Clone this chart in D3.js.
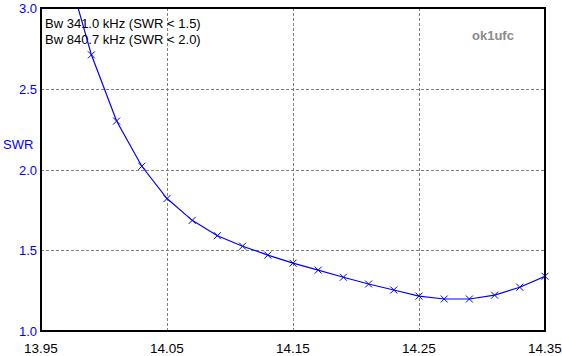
<!DOCTYPE html>
<html>
<head>
<meta charset="utf-8">
<script src="https://cdn.jsdelivr.net/npm/d3@7"></script>
<style>
  html, body { margin: 0; padding: 0; background: #fff; }
  svg { display: block; font-family: "Liberation Sans", Arial, sans-serif; }
</style>
</head>
<body>
<svg id="chart" width="562" height="356"></svg>
<script>
// Data
const freqs = [13.97, 13.99, 14.01, 14.03, 14.05, 14.07, 14.09, 14.11, 14.13, 14.15, 14.17, 14.19, 14.21, 14.23, 14.25, 14.27, 14.29, 14.31, 14.33, 14.35];
const swr   = [3.26, 2.71, 2.30, 2.02, 1.82, 1.685, 1.59, 1.525, 1.47, 1.42, 1.377, 1.333, 1.291, 1.254, 1.216, 1.198, 1.198, 1.222, 1.271, 1.339];
const xTicks = [13.95, 14.05, 14.15, 14.25, 14.35];
const xGrid = [14.05, 14.15, 14.25];
const yTicks = [1.0, 1.5, 2.0, 2.5, 3.0];
const yGrid = [1.5, 2.0, 2.5];
const infoLines = ["Bw 341.0 kHz (SWR < 1.5)", "Bw 840.7 kHz (SWR < 2.0)"];
const yLabel = "SWR";
const watermark = "ok1ufc";

const svg = d3.select("#chart");
const L = 41, R = 545, T = 8, B = 331;
const x = d3.scaleLinear().domain([13.95, 14.35]).range([L, R]);
const y = d3.scaleLinear().domain([1.0, 3.0]).range([B, T]);

svg.append("defs").append("clipPath").attr("id", "clip")
  .append("rect").attr("x", L).attr("y", T).attr("width", R - L).attr("height", B - T);

// grid
svg.append("g").selectAll("line").data(xGrid).join("line")
  .attr("x1", d => Math.round(x(d)) + 0.5).attr("x2", d => Math.round(x(d)) + 0.5)
  .attr("y1", T).attr("y2", B)
  .attr("stroke", "#808080").attr("stroke-dasharray", "3,2");
svg.append("g").selectAll("line").data(yGrid).join("line")
  .attr("y1", d => Math.round(y(d)) + 0.5).attr("y2", d => Math.round(y(d)) + 0.5)
  .attr("x1", L).attr("x2", R)
  .attr("stroke", "#808080").attr("stroke-dasharray", "3,2");

// info text
svg.append("g").selectAll("text").data(infoLines).join("text")
  .attr("x", 45).attr("y", (d, i) => 28 + i * 16)
  .attr("font-size", "13px").attr("fill", "#000").text(d => d);

// watermark
svg.append("text").attr("x", 472).attr("y", 40)
  .attr("font-size", "13px").attr("font-weight", "bold").attr("fill", "#8a8a8a")
  .text(watermark);

// curve
const g = svg.append("g").attr("clip-path", "url(#clip)");
const pts = freqs.map((f, i) => [f, swr[i]]);
g.append("path").datum(pts)
  .attr("fill", "none").attr("stroke", "#0000ff").attr("stroke-width", 1.2)
  .attr("d", d3.line().x(d => x(d[0])).y(d => y(d[1])));

// markers
const s = 3.5;
const mk = svg.append("g").attr("stroke", "#0000ff").attr("stroke-width", 1);
mk.selectAll("path").data(pts.filter(d => d[1] <= 3.0)).join("path")
  .attr("d", d => {
    const cx = x(d[0]), cy = y(d[1]);
    return `M${cx - s},${cy - s}L${cx + s},${cy + s}M${cx - s},${cy + s}L${cx + s},${cy - s}`;
  });

// frame
svg.append("rect").attr("x", L).attr("y", T).attr("width", R - L).attr("height", B - T)
  .attr("fill", "none").attr("stroke", "#000").attr("stroke-width", 2);

// x tick labels
svg.append("g").selectAll("text").data(xTicks).join("text")
  .attr("x", d => x(d)).attr("y", 353).attr("text-anchor", "middle")
  .attr("font-size", "13.5px").attr("fill", "#000").text(d => d.toFixed(2));

// y tick labels
svg.append("g").selectAll("text").data(yTicks).join("text")
  .attr("x", 37).attr("y", d => y(d) + 5).attr("text-anchor", "end")
  .attr("font-size", "13px").attr("fill", "#0000ff").text(d => d.toFixed(1));

// y label
svg.append("text").attr("x", 3).attr("y", 149)
  .attr("font-size", "13px").attr("fill", "#0000ff").text(yLabel);
</script>
</body>
</html>
